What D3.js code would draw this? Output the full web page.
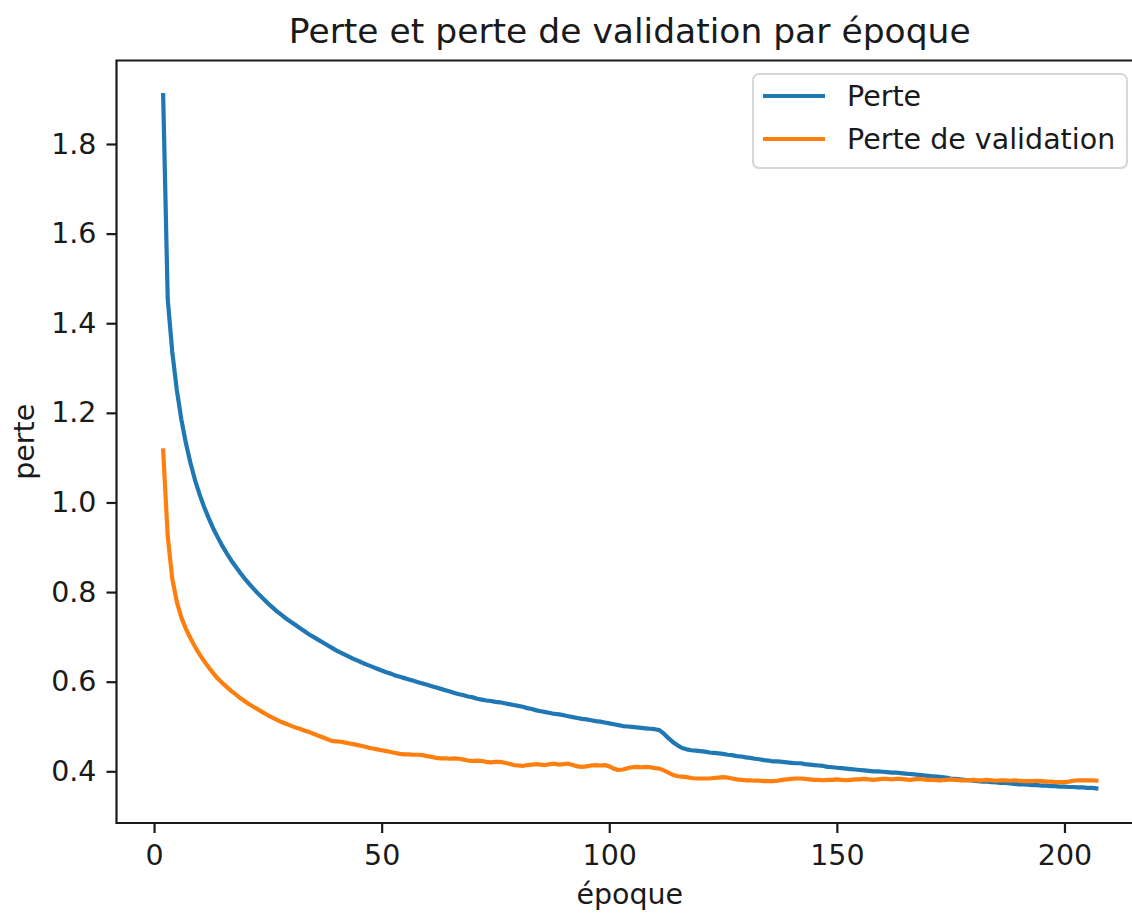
<!DOCTYPE html>
<html>
<head>
<meta charset="utf-8">
<script src="https://cdn.jsdelivr.net/npm/d3@7/dist/d3.min.js"></script>
<style>
  html, body { margin: 0; padding: 0; background: #fff; overflow: hidden; }
  svg { display: block; font-family: "DejaVu Sans", sans-serif; }
</style>
</head>
<body>
<svg id="chart" width="1132" height="915"></svg>
<script>
// Epochs recorded (training started logging at epoch 2)
const epochs = d3.range(2, 208);

// Training loss per epoch
const perte = [
  1.909, 1.454, 1.336, 1.251, 1.185, 1.132, 1.088, 1.050, 1.018, 0.990,
  0.965, 0.942, 0.922, 0.903, 0.886, 0.870, 0.856, 0.842, 0.829, 0.817,
  0.806, 0.795, 0.785, 0.775, 0.766, 0.757, 0.749, 0.741, 0.734, 0.727,
  0.720, 0.713, 0.706, 0.700, 0.694, 0.688, 0.682, 0.676, 0.670, 0.665,
  0.660, 0.655, 0.650, 0.646, 0.641, 0.637, 0.633, 0.629, 0.625, 0.621,
  0.618, 0.614, 0.611, 0.608, 0.605, 0.602, 0.599, 0.596, 0.593, 0.590,
  0.587, 0.584, 0.581, 0.578, 0.575, 0.572, 0.570, 0.567, 0.565, 0.562,
  0.560, 0.558, 0.557, 0.555, 0.554, 0.552, 0.550, 0.548, 0.546, 0.544,
  0.541, 0.539, 0.536, 0.534, 0.532, 0.530, 0.528, 0.527, 0.525, 0.523,
  0.521, 0.519, 0.517, 0.516, 0.514, 0.512, 0.511, 0.509, 0.507, 0.505,
  0.503, 0.501, 0.500, 0.499, 0.498, 0.497, 0.496, 0.495, 0.494, 0.492,
  0.484, 0.474, 0.465, 0.458, 0.452, 0.449, 0.447, 0.446, 0.445, 0.444,
  0.442, 0.441, 0.440, 0.439, 0.437, 0.436, 0.434, 0.433, 0.431, 0.430,
  0.428, 0.427, 0.425, 0.424, 0.422, 0.422, 0.421, 0.420, 0.419, 0.418,
  0.418, 0.416, 0.415, 0.414, 0.413, 0.412, 0.410, 0.409, 0.408, 0.407,
  0.406, 0.405, 0.404, 0.403, 0.402, 0.401, 0.400, 0.400, 0.399, 0.398,
  0.397, 0.397, 0.396, 0.395, 0.394, 0.393, 0.392, 0.391, 0.390, 0.389,
  0.388, 0.387, 0.386, 0.384, 0.383, 0.382, 0.381, 0.380, 0.379, 0.378,
  0.377, 0.377, 0.376, 0.375, 0.374, 0.374, 0.373, 0.372, 0.371, 0.371,
  0.370, 0.369, 0.369, 0.368, 0.368, 0.367, 0.367, 0.366, 0.366, 0.365,
  0.365, 0.364, 0.364, 0.363, 0.363, 0.362
];

// Validation loss per epoch
const perteValidation = [
  1.116, 0.925, 0.830, 0.778, 0.743, 0.718, 0.697, 0.678, 0.661, 0.646,
  0.632, 0.619, 0.607, 0.597, 0.588, 0.579, 0.571, 0.563, 0.556, 0.549,
  0.543, 0.537, 0.531, 0.525, 0.520, 0.515, 0.510, 0.506, 0.502, 0.498,
  0.495, 0.491, 0.488, 0.484, 0.480, 0.476, 0.472, 0.468, 0.467, 0.466,
  0.464, 0.462, 0.460, 0.458, 0.456, 0.453, 0.451, 0.449, 0.447, 0.445,
  0.443, 0.441, 0.439, 0.438, 0.438, 0.437, 0.437, 0.436, 0.434, 0.432,
  0.430, 0.429, 0.429, 0.428, 0.429, 0.428, 0.426, 0.424, 0.423, 0.424,
  0.423, 0.421, 0.420, 0.421, 0.421, 0.419, 0.417, 0.414, 0.413, 0.412,
  0.414, 0.415, 0.416, 0.415, 0.414, 0.416, 0.417, 0.415, 0.416, 0.417,
  0.414, 0.411, 0.410, 0.411, 0.413, 0.414, 0.413, 0.414, 0.411, 0.406,
  0.403, 0.404, 0.407, 0.409, 0.410, 0.409, 0.410, 0.409, 0.407, 0.406,
  0.402, 0.397, 0.392, 0.389, 0.388, 0.387, 0.385, 0.384, 0.384, 0.384,
  0.384, 0.385, 0.386, 0.387, 0.386, 0.384, 0.382, 0.381, 0.380, 0.380,
  0.379, 0.379, 0.378, 0.378, 0.378, 0.379, 0.381, 0.382, 0.383, 0.384,
  0.384, 0.383, 0.382, 0.381, 0.381, 0.380, 0.381, 0.381, 0.382, 0.381,
  0.380, 0.381, 0.382, 0.382, 0.383, 0.382, 0.381, 0.382, 0.383, 0.383,
  0.382, 0.383, 0.383, 0.382, 0.381, 0.382, 0.383, 0.382, 0.381, 0.381,
  0.380, 0.380, 0.381, 0.382, 0.381, 0.380, 0.380, 0.380, 0.381, 0.380,
  0.380, 0.381, 0.380, 0.379, 0.380, 0.380, 0.379, 0.380, 0.379, 0.378,
  0.378, 0.378, 0.379, 0.378, 0.377, 0.377, 0.376, 0.376, 0.376, 0.377,
  0.379, 0.380, 0.380, 0.380, 0.380, 0.379
];

const xTicks = [0, 50, 100, 150, 200];
const yTicks = [0.4, 0.6, 0.8, 1.0, 1.2, 1.4, 1.6, 1.8];

const seriesNames = ["Perte", "Perte de validation"];
const seriesColors = ["#1f77b4", "#ff7f0e"];

const titleText = "Perte et perte de validation par époque";
const xLabel = "époque";
const yLabel = "perte";

// ---- layout ----
const frame = { left: 116.5, right: 1143, top: 60.5, bottom: 823 };
const fontSize = "28.5px";

const series = [perte, perteValidation].map((vals, i) => ({
  name: seriesNames[i],
  color: seriesColors[i],
  points: epochs.map((e, j) => ({ x: e, y: vals[j] }))
}));

// Autoscale with 5% margins on both axes
function padded(extent) {
  const pad = (extent[1] - extent[0]) * 0.05;
  return [extent[0] - pad, extent[1] + pad];
}
const allY = perte.concat(perteValidation);

const x = d3.scaleLinear()
  .domain(padded(d3.extent(epochs)))
  .range([frame.left, frame.right]);
const y = d3.scaleLinear()
  .domain(padded(d3.extent(allY)))
  .range([frame.bottom, frame.top]);

const svg = d3.select("#chart");
const ink = "#1a1a1a";

// data lines (clipped to the axes area)
svg.append("clipPath").attr("id", "plotArea")
  .append("rect")
  .attr("x", frame.left).attr("y", frame.top)
  .attr("width", frame.right - frame.left)
  .attr("height", frame.bottom - frame.top);

const line = d3.line().x(d => x(d.x)).y(d => y(d.y));

svg.append("g").attr("clip-path", "url(#plotArea)")
  .selectAll("path")
  .data(series)
  .join("path")
  .attr("d", d => line(d.points))
  .attr("fill", "none")
  .attr("stroke", d => d.color)
  .attr("stroke-width", 4.2)
  .attr("stroke-linejoin", "round")
  .attr("stroke-linecap", "square");

// axes
const xAxis = d3.axisBottom(x).tickValues(xTicks).tickFormat(d3.format("d"))
  .tickSize(10).tickPadding(10);
const yAxis = d3.axisLeft(y).tickValues(yTicks).tickFormat(d3.format(".1f"))
  .tickSize(10).tickPadding(10);

const gx = svg.append("g").attr("transform", `translate(0,${frame.bottom})`).call(xAxis);
const gy = svg.append("g").attr("transform", `translate(${frame.left},0)`).call(yAxis);

[gx, gy].forEach(g => {
  g.select(".domain").remove();
  g.selectAll(".tick line").attr("stroke", ink).attr("stroke-width", 2.2);
  g.selectAll(".tick text")
    .attr("fill", ink)
    .style("font-size", fontSize)
    .style("font-family", "'DejaVu Sans', sans-serif");
});
gx.selectAll(".tick text").attr("dy", "0.76em");

// spines (left, bottom, top; the right edge sits past the page)
const spines = svg.append("g")
  .attr("fill", "none").attr("stroke", ink).attr("stroke-width", 2.2)
  .attr("stroke-linecap", "square");
spines.append("path")
  .attr("d", `M${frame.right},${frame.top}H${frame.left}V${frame.bottom}H${frame.right}V${frame.top}`);

// title and axis labels
svg.append("text")
  .attr("x", (frame.left + frame.right) / 2).attr("y", 43)
  .attr("text-anchor", "middle").attr("fill", ink)
  .style("font-size", "34.5px")
  .text(titleText);

svg.append("text")
  .attr("x", (frame.left + frame.right) / 2).attr("y", 904)
  .attr("text-anchor", "middle").attr("fill", ink)
  .style("font-size", fontSize)
  .text(xLabel);

svg.append("text")
  .attr("transform", `translate(34,${(frame.top + frame.bottom) / 2}) rotate(-90)`)
  .attr("text-anchor", "middle").attr("fill", ink)
  .style("font-size", fontSize)
  .text(yLabel);

// legend
const legend = svg.append("g").attr("transform", "translate(753,74)");
legend.append("rect")
  .attr("width", 374).attr("height", 94).attr("rx", 6)
  .attr("fill", "#fff").attr("fill-opacity", 0.8)
  .attr("stroke", "#d6d6d6").attr("stroke-width", 2);

const items = legend.selectAll("g.item")
  .data(series)
  .join("g")
  .attr("class", "item")
  .attr("transform", (d, i) => `translate(0,${22 + i * 43})`);
items.append("line")
  .attr("x1", 10).attr("x2", 72)
  .attr("stroke", d => d.color).attr("stroke-width", 4.2);
items.append("text")
  .attr("x", 94).attr("y", 0).attr("dy", "0.36em")
  .attr("fill", ink)
  .style("font-size", fontSize)
  .text(d => d.name);
</script>
</body>
</html>
